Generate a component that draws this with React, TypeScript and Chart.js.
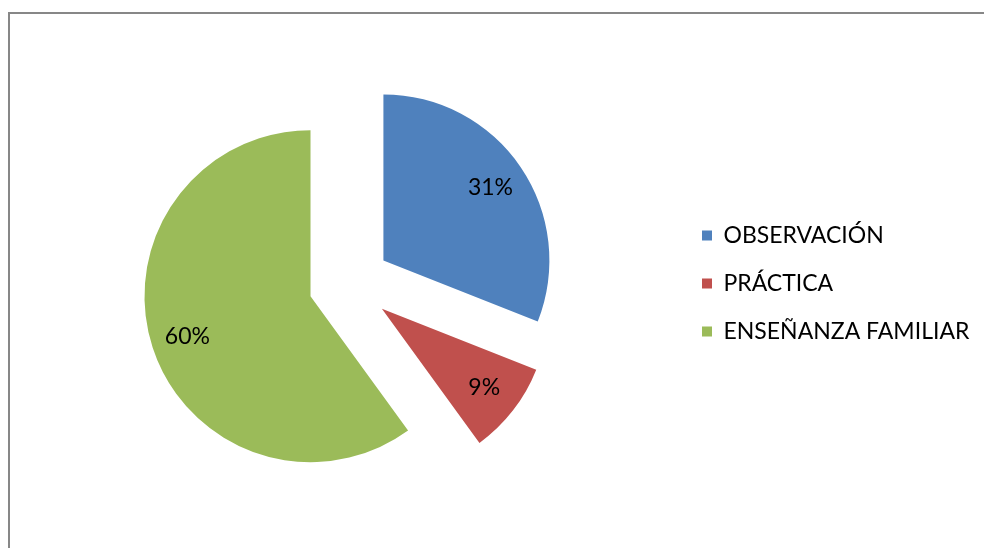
import React, { useEffect, useRef } from "react";
import { Chart, registerables } from "chart.js";

Chart.register(...registerables);

// ---- data ----
const categories: string[] = ["OBSERVACIÓN", "PRÁCTICA", "ENSEÑANZA FAMILIAR"];
const values: number[] = [31, 9, 60];
const colors: string[] = ["#4F81BD", "#C0504D", "#9BBB59"];

// ---- styling ----
const FONT_FAMILY = "Lato, 'Open Sans', sans-serif";
const FONT_SIZE = 23;
const EXPLODE = 41;
const RADIUS = 166;
const W = 966;
const H = 524;

const explodePlugin = {
  id: "explodeSlices",
  afterDatasetsUpdate(chart: any) {
    const meta = chart.getDatasetMeta(0);
    meta.data.forEach((arc: any) => {
      const mid = (arc.startAngle + arc.endAngle) / 2;
      arc.x += Math.cos(mid) * EXPLODE;
      arc.y += Math.sin(mid) * EXPLODE;
    });
  },
};

const valueLabelPlugin = {
  id: "valueLabels",
  afterDatasetsDraw(chart: any) {
    const ctx = chart.ctx;
    const meta = chart.getDatasetMeta(0);
    const data = chart.data.datasets[0].data as number[];
    const total = data.reduce((a, b) => a + b, 0);
    ctx.save();
    ctx.font = `${FONT_SIZE}px ${FONT_FAMILY}`;
    ctx.fillStyle = "#000000";
    ctx.textAlign = "center";
    ctx.textBaseline = "middle";
    meta.data.forEach((arc: any, i: number) => {
      const mid = (arc.startAngle + arc.endAngle) / 2;
      const r = arc.outerRadius * 0.78;
      const pct = Math.round((data[i] / total) * 100);
      ctx.fillText(`${pct}%`, arc.x + Math.cos(mid) * r, arc.y + Math.sin(mid) * r);
    });
    ctx.restore();
  },
};

export default function App() {
  const ref = useRef<HTMLCanvasElement>(null);

  useEffect(() => {
    const canvas = ref.current;
    if (!canvas) return;
    const mctx = canvas.getContext("2d")!;
    mctx.font = `normal normal ${FONT_SIZE}px ${FONT_FAMILY}`;
    const maxText = Math.max(...categories.map((c) => mctx.measureText(c).width));
    const boxW = 10;
    const legendPad = 48 - FONT_SIZE;
    const itemStart = 692;
    // Chart.js adds 10px to a vertical legend's width
    const padRight = W - (itemStart + boxW + FONT_SIZE / 2 + maxText) - 10;
    const padLeft = 2 * 339.5 - (itemStart - legendPad);

    const chart = new Chart(canvas, {
      type: "pie",
      data: {
        labels: categories,
        datasets: [
          {
            data: values,
            backgroundColor: colors,
            borderWidth: 0,
            radius: RADIUS,
          } as any,
        ],
      },
      options: {
        responsive: false,
        animation: false,
        events: [],
        layout: { padding: { left: padLeft, right: padRight, top: 15, bottom: 0 } },
        plugins: {
          legend: {
            position: "right",
            labels: {
              boxWidth: boxW,
              boxHeight: 10,
              padding: legendPad,
              color: "#000000",
              font: { family: FONT_FAMILY, size: FONT_SIZE },
            },
          },
          tooltip: { enabled: false },
        },
      },
      plugins: [explodePlugin, valueLabelPlugin],
    });
    return () => chart.destroy();
  }, []);

  return (
    <div style={{ paddingTop: 6, paddingLeft: 2 }}>
      <div
        style={{
          position: "fixed",
          left: 8,
          top: 12,
          right: -20,
          bottom: -20,
          borderTop: "2px solid #878787",
          borderLeft: "2px solid #878787",
          pointerEvents: "none",
        }}
      />
      <canvas ref={ref} width={W} height={H} style={{ display: "block" }} />
    </div>
  );
}
